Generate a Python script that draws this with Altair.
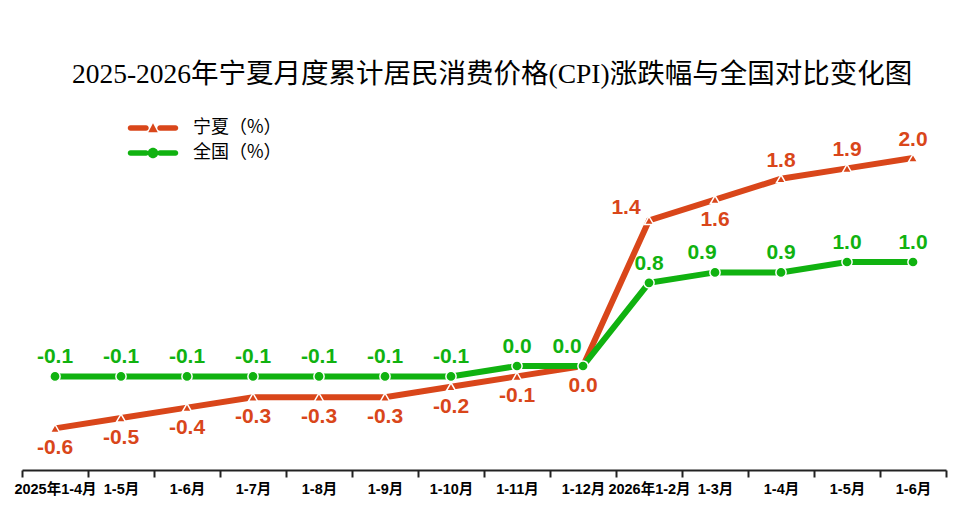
import altair as alt
import pandas as pd

# ---- data ----
periods = ["2025年1-4月", "2025年1-5月", "2025年1-6月", "2025年1-7月", "2025年1-8月",
           "2025年1-9月", "2025年1-10月", "2025年1-11月", "2025年1-12月",
           "2026年1-2月", "2026年1-3月", "2026年1-4月", "2026年1-5月", "2026年1-6月"]
tick_labels = ["2025年1-4月", "1-5月", "1-6月", "1-7月", "1-8月", "1-9月", "1-10月",
               "1-11月", "1-12月", "2026年1-2月", "1-3月", "1-4月", "1-5月", "1-6月"]
ningxia = [-0.6, -0.5, -0.4, -0.3, -0.3, -0.3, -0.2, -0.1, 0.0, 1.4, 1.6, 1.8, 1.9, 2.0]
national = [-0.1, -0.1, -0.1, -0.1, -0.1, -0.1, -0.1, 0.0, 0.0, 0.8, 0.9, 0.9, 1.0, 1.0]
series_names = ["宁夏（%）", "全国（%）"]
title_text = "2025-2026年宁夏月度累计居民消费价格(CPI)涨跌幅与全国对比变化图"

ORANGE = "#D9461A"
GREEN = "#10B210"

rows = []
for i, p in enumerate(periods):
    rows.append({"i": i, "period": p, "series": series_names[0], "value": ningxia[i]})
    rows.append({"i": i, "period": p, "series": series_names[1], "value": national[i]})
df = pd.DataFrame(rows)

color_scale = alt.Scale(domain=series_names, range=[ORANGE, GREEN])
label_expr = "[" + ",".join("'" + t + "'" for t in tick_labels) + "][datum.value]"

x_enc = alt.X(
    "i:O",
    scale=alt.Scale(type="band", paddingInner=0, paddingOuter=0),
    axis=alt.Axis(
        title=None, labelExpr=label_expr, labelAngle=0,
        labelFont="Liberation Sans, Noto Sans CJK SC", labelFontWeight="bold",
        labelFontSize=14.5, labelColor="black", labelPadding=5, labelOverlap=False,
        tickBand="extent", tickSize=7, tickWidth=2, tickColor="#222",
        domainColor="#222", domainWidth=2, grid=False,
    ),
)
y_enc = alt.Y("value:Q", scale=alt.Scale(domain=[-1, 2.5]), axis=None)
c_enc = alt.Color("series:N", scale=color_scale, legend=None)

base = alt.Chart(df).transform_calculate(
    label="replace(format(datum.value, '.1f'), '\u2212', '-')"
)
nx = base.transform_filter(alt.datum.series == series_names[0])
nt = base.transform_filter(alt.datum.series == series_names[1])

line_nx = nx.mark_line(strokeWidth=6).encode(x=x_enc, y=y_enc, color=c_enc)
pts_nx = nx.mark_point(shape="triangle-up", filled=True, size=85, stroke="white",
                       strokeWidth=1.5, opacity=1).encode(x=x_enc, y=y_enc, color=c_enc)
line_nt = nt.mark_line(strokeWidth=6).encode(x=x_enc, y=y_enc, color=c_enc)
pts_nt = nt.mark_point(shape="circle", filled=True, size=105, stroke="white",
                       strokeWidth=1.5, opacity=1).encode(x=x_enc, y=y_enc, color=c_enc)


def text_layer(src, cond, dx, dy):
    return src.transform_filter(cond).mark_text(
        font="Liberation Sans", fontWeight="bold", fontSize=21, dx=dx, dy=dy,
        baseline="middle", align="center",
    ).encode(x=x_enc, y=y_enc, text=alt.Text("label:N"), color=c_enc)


texts = [
    text_layer(nx, "datum.i <= 8 || datum.i == 10", 0, 20),
    text_layer(nx, "datum.i >= 11", 0, -18),
    text_layer(nx, "datum.i == 9", -23, -12),
    text_layer(nt, "datum.i != 8 && datum.i != 10", 0, -19),
    text_layer(nt, "datum.i == 8", -16, -19),
    text_layer(nt, "datum.i == 10", -13, -19),
]

# legend symbols: line segment + marker (custom SVG paths, unit = sqrt(size)/2)
bar_paths = ("M-4.5,-0.55H-1.4A0.55,0.55,0,0,1,-1.4,0.55H-4.5A0.55,0.55,0,0,1,-4.5,-0.55Z "
             "M1.4,-0.55H4.5A0.55,0.55,0,0,1,4.5,0.55H1.4A0.55,0.55,0,0,1,1.4,-0.55Z ")
tri_path = bar_paths + "M-0.95,0.85L0,-0.95L0.95,0.85Z"
circ_path = bar_paths + "M1.05,0A1.05,1.05,0,1,1,-1.05,0A1.05,1.05,0,1,1,1.05,0Z"

legend = alt.Legend(
    orient="none", legendX=122, legendY=13, title=None,
    labelFont="Noto Sans CJK SC", labelFontSize=18, labelColor="black",
    symbolSize=100, symbolStrokeWidth=0, symbolOpacity=1,
    labelOffset=31, rowPadding=7, padding=0,
)
legend_df = pd.DataFrame({"series": series_names})
legend_layer = alt.Chart(legend_df).mark_point(filled=True, opacity=0, size=100).encode(
    color=alt.Color("series:N", scale=color_scale, legend=legend, sort=series_names),
    shape=alt.Shape("series:N", scale=alt.Scale(domain=series_names, range=[tri_path, circ_path]),
                    legend=legend, sort=series_names),
)

chart = alt.layer(line_nx, pts_nx, line_nt, pts_nt, *texts, legend_layer).resolve_legend(
    color="independent", shape="independent"
).properties(
    width=924, height=364,
    title=alt.TitleParams(
        text=title_text, font="Liberation Serif, Noto Sans CJK SC", fontSize=27.5,
        fontWeight="normal", color="black", anchor="middle", offset=18, dx=8,
    ),
    padding={"left": 14, "top": 98, "right": 18, "bottom": 50},
    autosize="none",
).configure_view(stroke=None)

chart.save("out.html", embed_options={"renderer": "svg", "actions": False})
